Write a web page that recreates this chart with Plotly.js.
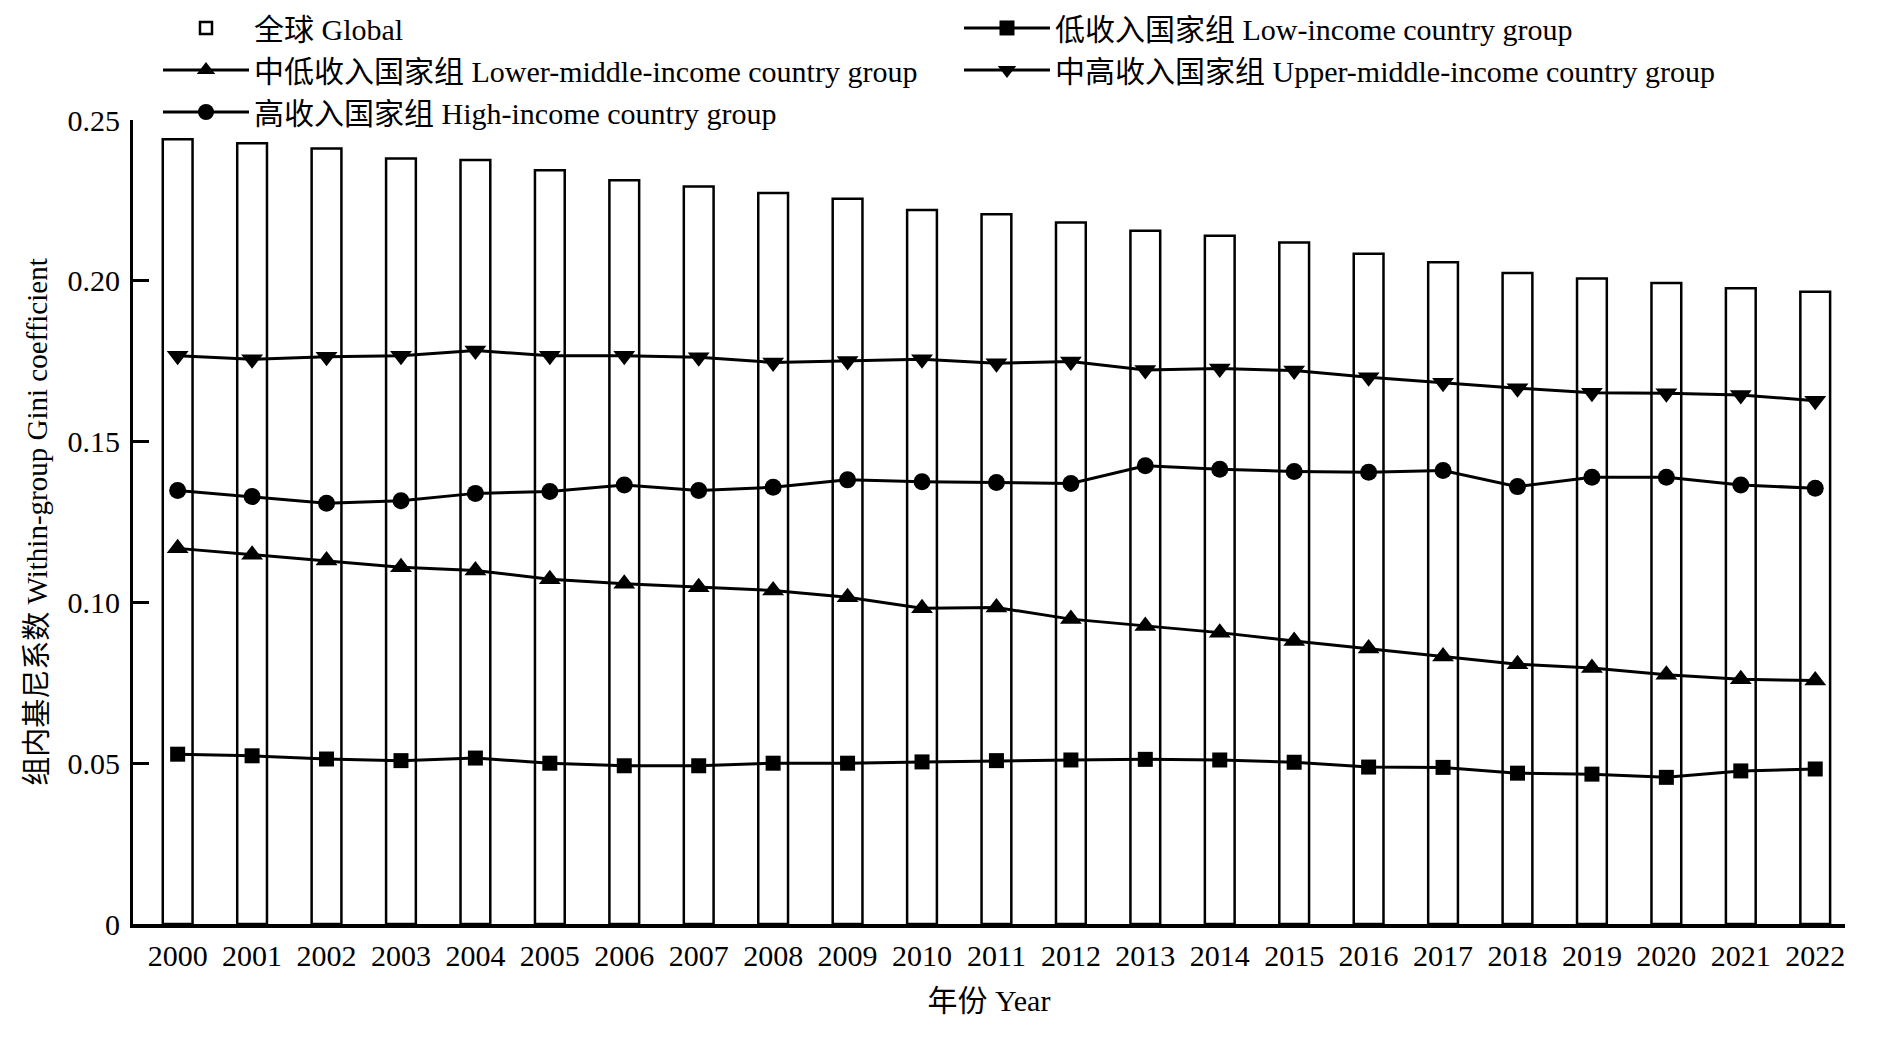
<!DOCTYPE html>
<html>
<head>
<meta charset="utf-8">
<script src="https://cdn.plot.ly/plotly-3.0.1.min.js"></script>
<style>
  html, body { margin: 0; padding: 0; background: #fff; }
  #chart { width: 1878px; height: 1037px; }
</style>
</head>
<body>
<div id="chart"></div>
<script>
// ---- Data ----
const years = [2000, 2001, 2002, 2003, 2004, 2005, 2006, 2007, 2008, 2009, 2010, 2011,
               2012, 2013, 2014, 2015, 2016, 2017, 2018, 2019, 2020, 2021, 2022];
const yearLabels = years.map(String);

const globalGini = [0.2440, 0.2428, 0.2411, 0.2380, 0.2376, 0.2344, 0.2313, 0.2293, 0.2273, 0.2255,
                    0.2220, 0.2207, 0.2181, 0.2156, 0.2140, 0.2119, 0.2084, 0.2058, 0.2024, 0.2007,
                    0.1993, 0.1977, 0.1966];
const lowIncome = [0.0528, 0.0523, 0.0513, 0.0508, 0.0516, 0.0500, 0.0492, 0.0492, 0.0500, 0.0500,
                   0.0504, 0.0508, 0.0510, 0.0512, 0.0510, 0.0503, 0.0488, 0.0487, 0.0469, 0.0466,
                   0.0456, 0.0476, 0.0482];
const lowerMiddle = [0.1168, 0.1148, 0.1130, 0.1109, 0.1099, 0.1072, 0.1058, 0.1047, 0.1037, 0.1016,
                     0.0982, 0.0984, 0.0948, 0.0927, 0.0906, 0.0880, 0.0857, 0.0832, 0.0808, 0.0796,
                     0.0775, 0.0761, 0.0757];
const upperMiddle = [0.1767, 0.1756, 0.1764, 0.1767, 0.1783, 0.1767, 0.1767, 0.1762, 0.1746, 0.1751,
                     0.1756, 0.1744, 0.1749, 0.1723, 0.1727, 0.1721, 0.1700, 0.1683, 0.1666, 0.1652,
                     0.1650, 0.1645, 0.1627];
const highIncome = [0.1348, 0.1329, 0.1308, 0.1316, 0.1339, 0.1345, 0.1365, 0.1348, 0.1358, 0.1381,
                    0.1375, 0.1373, 0.1370, 0.1425, 0.1414, 0.1407, 0.1405, 0.1410, 0.1360, 0.1389,
                    0.1389, 0.1365, 0.1355];

const yTickVals = [0, 0.05, 0.10, 0.15, 0.20, 0.25];
const yTickText = ['0', '0.05', '0.10', '0.15', '0.20', '0.25'];

const seriesNames = {
  global: '全球 Global',
  low: '低收入国家组 Low-income country group',
  lowerMiddle: '中低收入国家组 Lower-middle-income country group',
  upperMiddle: '中高收入国家组 Upper-middle-income country group',
  high: '高收入国家组 High-income country group'
};

// ---- Styling ----
const FONT = '"Liberation Serif", "Noto Sans CJK SC", serif';

function lineTrace(name, y, symbol, size) {
  return {
    type: 'scatter', mode: 'lines+markers', name: name,
    x: years, y: y,
    line: { color: '#000', width: 3 },
    marker: { symbol: symbol, size: size, color: '#000', line: { width: 0 } },
    cliponaxis: false
  };
}

const traces = [
  {
    type: 'bar', name: seriesNames.global, x: years, y: globalGini,
    width: 0.4,
    marker: { color: '#fff', line: { color: '#000', width: 2.5 } }
  },
  lineTrace(seriesNames.low, lowIncome, 'square', 15),
  lineTrace(seriesNames.lowerMiddle, lowerMiddle, 'triangle-up', 19),
  lineTrace(seriesNames.upperMiddle, upperMiddle, 'triangle-down', 19),
  lineTrace(seriesNames.high, highIncome, 'circle', 17)
];

const layout = {
  width: 1878, height: 1037,
  paper_bgcolor: '#fff', plot_bgcolor: '#fff',
  font: { family: FONT, size: 30, color: '#000' },
  margin: { l: 133, r: 33, t: 120, b: 113, pad: 0, autoexpand: false },
  showlegend: true,
  legend: {
    orientation: 'h',
    xref: 'paper', yref: 'paper',
    x: 0.0146, y: 1.1468, xanchor: 'left', yanchor: 'top',
    entrywidth: 700, entrywidthmode: 'pixels',
    itemwidth: 86,
    traceorder: 'normal',
    font: { family: FONT, size: 30, color: '#000' },
    bgcolor: 'rgba(0,0,0,0)', borderwidth: 0,
    tracegroupgap: 0
  },
  xaxis: {
    type: 'linear',
    range: [1999.4, 2022.4],
    tickmode: 'array', tickvals: years, ticktext: yearLabels,
    ticks: '', showgrid: false, zeroline: false,
    showline: true, linecolor: '#000', linewidth: 3.5,
    ticklabelstandoff: 2,
    tickfont: { family: FONT, size: 30, color: '#000' },
    title: { text: '年份 Year', font: { family: FONT, size: 30, color: '#000' }, standoff: 20 },
    automargin: false,
    fixedrange: true
  },
  yaxis: {
    range: [0, 0.25],
    tickmode: 'array', tickvals: yTickVals, ticktext: yTickText,
    ticks: 'inside', ticklen: 16, tickwidth: 3, tickcolor: '#000',
    showgrid: false, zeroline: false,
    showline: true, linecolor: '#000', linewidth: 3,
    ticklabelstandoff: 4,
    tickfont: { family: FONT, size: 30, color: '#000' },
    title: { text: '组内基尼系数 Within-group Gini coefficient', font: { family: FONT, size: 29, color: '#000' }, standoff: 12 },
    automargin: false,
    fixedrange: true
  },
  bargap: 0
};

Plotly.newPlot('chart', traces, layout, { staticPlot: true, displayModeBar: false });
</script>
</body>
</html>
